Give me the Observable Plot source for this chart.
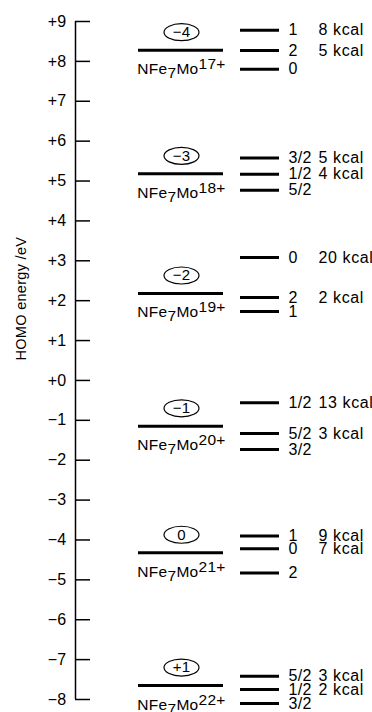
<!DOCTYPE html>
<html>
<head>
<meta charset="utf-8">
<script src="https://cdn.jsdelivr.net/npm/d3@7"></script>
<script src="https://cdn.jsdelivr.net/npm/@observablehq/plot@0.6"></script>
<style>
  html, body { margin: 0; padding: 0; background: #fff; }
  #chart { width: 372px; height: 712px; }
  svg text { font-family: "Liberation Sans", Arial, Helvetica, sans-serif; letter-spacing: 0.3px; }
</style>
</head>
<body>
<div id="chart"></div>
<script>
// ---- data ----
const yTicks = [-8, -7, -6, -5, -4, -3, -2, -1, 0, 1, 2, 3, 4, 5, 6, 7, 8, 9];
const yTickLabels = ["−8", "−7", "−6", "−5", "−4", "−3", "−2", "−1", "+0", "+1", "+2", "+3", "+4", "+5", "+6", "+7", "+8", "+9"];
const yTitle = "HOMO energy /eV";

const clusterCharge = ["−4", "−3", "−2", "−1", "0", "+1"];
const clusterSuper = ["17+", "18+", "19+", "20+", "21+", "22+"];
const clusterHomo = [8.28, 5.18, 2.18, -1.15, -4.32, -7.65];

const spinGroup = ["−4","−4","−4","−3","−3","−3","−2","−2","−2","−1","−1","−1","0","0","0","+1","+1","+1"];
const spinLabel = ["1","2","0","3/2","1/2","5/2","0","2","1","1/2","5/2","3/2","1","0","2","5/2","1/2","3/2"];
const spinEnergy = [8.78, 8.27, 7.80, 5.58, 5.17, 4.77, 3.08, 2.08, 1.73, -0.56, -1.33, -1.73, -3.90, -4.22, -4.83, -7.42, -7.75, -8.10];
const spinKcal = ["8 kcal","5 kcal","","5 kcal","4 kcal","","20 kcal","2 kcal","","13 kcal","3 kcal","","9 kcal","7 kcal","","3 kcal","2 kcal",""];

// ---- tables ----
const ticks = yTicks.map((v, i) => ({v, label: yTickLabels[i]}));
const clusters = clusterCharge.map((c, i) => ({charge: c, name: "NFe7Mo" + clusterSuper[i], homo: clusterHomo[i]}));
const spins = spinLabel.map((s, i) => ({group: spinGroup[i], spin: s, e: spinEnergy[i], kcal: spinKcal[i]}));

// ---- layout constants (pixels) ----
const AXIS_X = 75, TICK_LEN = 15;
const CL_X1 = 138, CL_X2 = 223, CL_MID = 181;
const SP_X1 = 240, SP_X2 = 279, SP_LABEL_X = 288, KCAL_X = 318;

const ellipse = {
  draw(ctx) {
    const rx = 17.5, ry = 8.5, k = 0.5523;
    const kx = rx * k, ky = ry * k;
    ctx.moveTo(rx, 0);
    ctx.bezierCurveTo(rx, ky, kx, ry, 0, ry);
    ctx.bezierCurveTo(-kx, ry, -rx, ky, -rx, 0);
    ctx.bezierCurveTo(-rx, -ky, -kx, -ry, 0, -ry);
    ctx.bezierCurveTo(kx, -ry, rx, -ky, rx, 0);
    ctx.closePath();
  }
};

const FS = 16;

const plot = Plot.plot({
  width: 372,
  height: 712,
  marginLeft: 0, marginRight: 0, marginTop: 21, marginBottom: 13,
  x: {domain: [0, 372], range: [0, 372], axis: null},
  y: {domain: [-8, 9], axis: null},
  style: {background: "#fff", color: "#000"},
  marks: [
    // axis
    Plot.ruleX([0], {x: AXIS_X, y1: -8, y2: 9, stroke: "#000", strokeWidth: 1.5}),
    Plot.ruleY(ticks, {y: "v", x1: AXIS_X, x2: AXIS_X + TICK_LEN, stroke: "#000", strokeWidth: 1.5}),
    Plot.text(ticks, {y: "v", x: AXIS_X - 9, text: "label", textAnchor: "end", fontSize: FS, fill: "#000"}),
    Plot.text([yTitle], {frameAnchor: "left", dx: 21, rotate: -90, text: d => d, fontSize: 14.5, fill: "#000"}),
    // cluster HOMO levels
    Plot.ruleY(clusters, {y: "homo", x1: CL_X1, x2: CL_X2, stroke: "#000", strokeWidth: 3}),
    Plot.dot(clusters, {x: CL_MID, y: "homo", dy: -18, symbol: ellipse, r: 9, stroke: "#000", fill: "#fff", strokeWidth: 1.2}),
    Plot.text(clusters, {x: CL_MID, y: "homo", dy: -18, text: "charge", fontSize: 15, fill: "#000"}),
    Plot.text(clusters, {x: CL_MID, y: "homo", dy: 19, text: "name", fontSize: 15.5, fill: "#000"}),
    // spin states
    Plot.ruleY(spins, {y: "e", x1: SP_X1, x2: SP_X2, stroke: "#000", strokeWidth: 3}),
    Plot.text(spins, {y: "e", x: SP_LABEL_X, text: "spin", textAnchor: "start", fontSize: FS, fill: "#000"}),
    Plot.text(spins.filter(d => d.kcal), {y: "e", x: KCAL_X, text: "kcal", textAnchor: "start", fontSize: FS, fill: "#000"})
  ]
});

// rich text for formula labels: subscript 7, superscript charge
d3.select(plot).selectAll("text").each(function() {
  const t = this.textContent;
  if (/kcal$/.test(t)) d3.select(this).style("letter-spacing", "0.6px");
  const m = /^NFe(\d)Mo(.+)$/.exec(t);
  if (!m) return;
  const el = d3.select(this);
  el.text(null);
  el.append("tspan").text("NFe");
  el.append("tspan").attr("dy", 4).text(m[1]);
  el.append("tspan").attr("dy", -4).text("Mo");
  el.append("tspan").attr("dy", -5).text(m[2]);
});

document.getElementById("chart").appendChild(plot);
</script>
</body>
</html>
